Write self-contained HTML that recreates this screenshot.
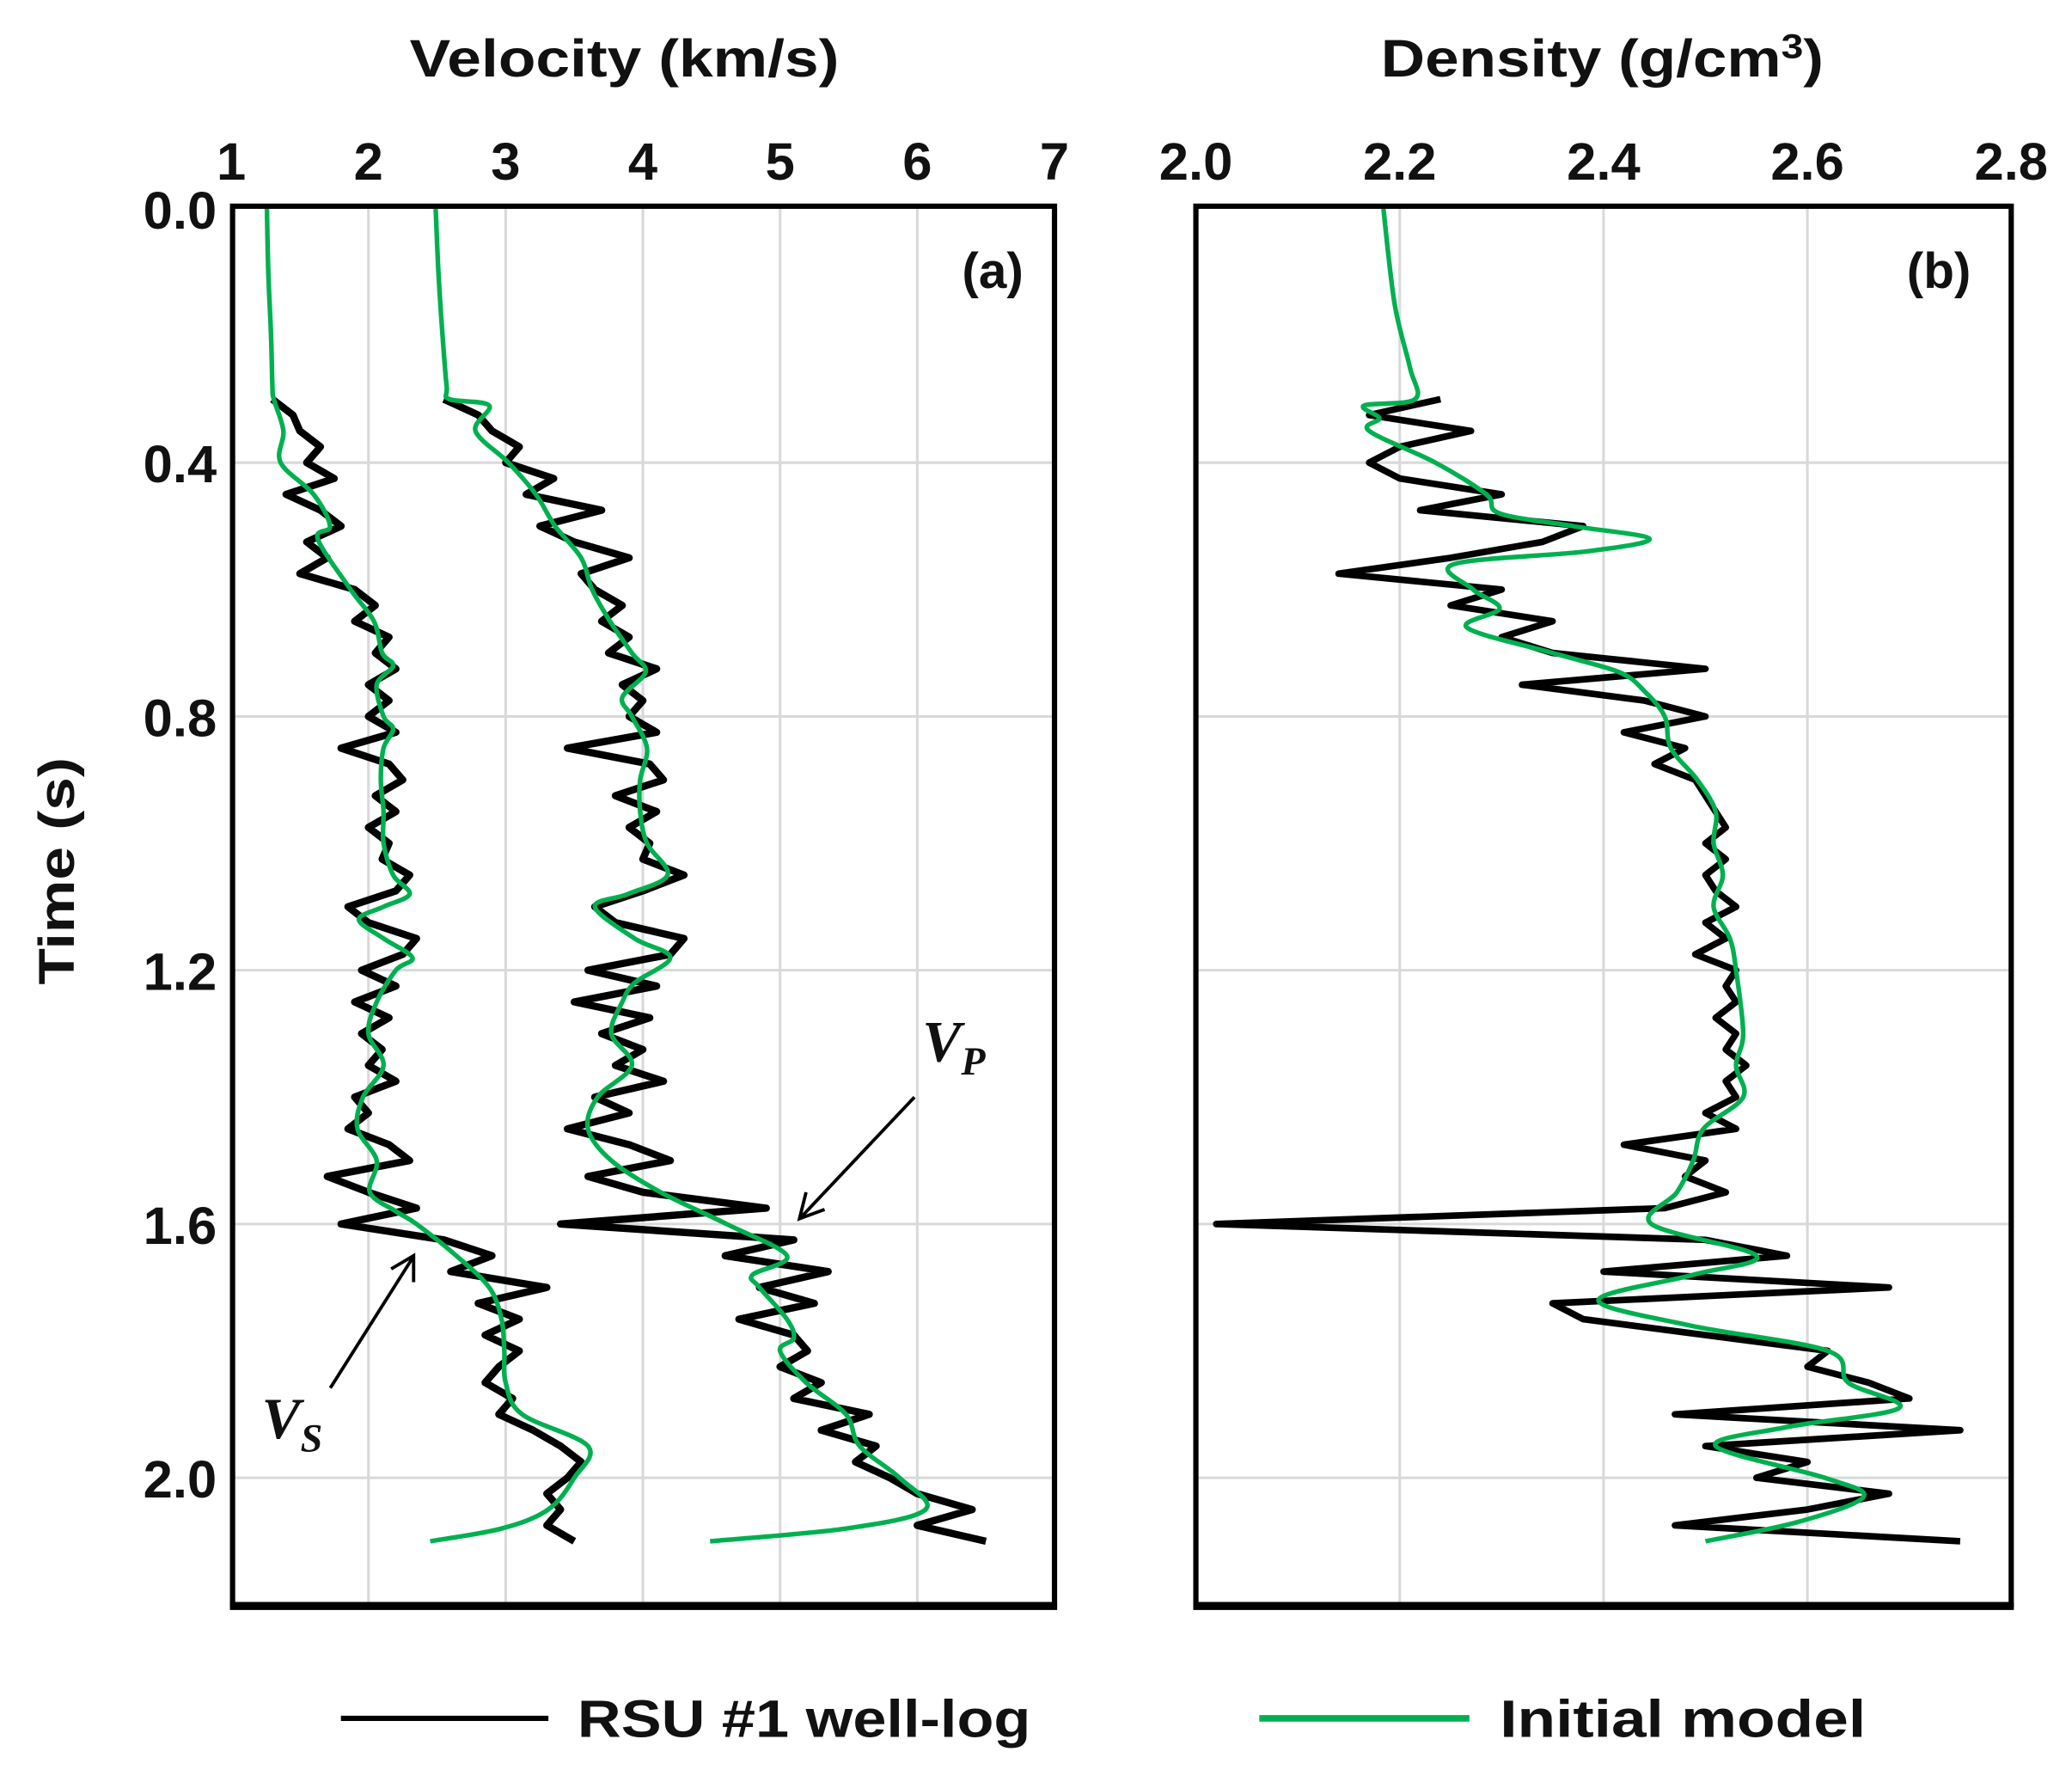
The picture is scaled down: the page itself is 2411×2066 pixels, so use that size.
<!DOCTYPE html>
<html><head><meta charset="utf-8"><style>
html,body{margin:0;padding:0;background:#fff;}
svg{display:block;}
text{font-family:"Liberation Sans",sans-serif;font-weight:bold;fill:#111;}
</style></head><body>
<svg id="chart" width="2411" height="2066" viewBox="0 0 1568 1343.6" preserveAspectRatio="none" xmlns="http://www.w3.org/2000/svg">
<g id="grid"></g>
<g id="series"></g>
<rect x="176" y="156" width="622" height="1058" fill="none" stroke="#000" stroke-width="4"/>
<line x1="174" y1="1215" x2="800" y2="1215" stroke="#000" stroke-width="6"/>
<rect x="905" y="156" width="617" height="1058" fill="none" stroke="#000" stroke-width="4"/>
<line x1="903" y1="1215" x2="1524" y2="1215" stroke="#000" stroke-width="6"/>
<g id="ticks"></g>
<text x="310" y="58" font-size="40" textLength="325" lengthAdjust="spacingAndGlyphs">Velocity (km/s)</text>
<text x="1045" y="58" font-size="40" textLength="335" lengthAdjust="spacingAndGlyphs">Density (g/cm<tspan font-size="26" dy="-14">3</tspan><tspan dy="14">)</tspan></text>
<text transform="translate(56,745) rotate(-90)" font-size="38" textLength="172" lengthAdjust="spacingAndGlyphs">Time (s)</text>
<text x="728" y="218" font-size="38">(a)</text>
<text x="1443" y="218" font-size="38">(b)</text>
<text x="698" y="803" font-size="44" font-style="italic" style="font-family:'Liberation Serif',serif">V<tspan font-size="30" dy="10">P</tspan></text>
<line x1="692" y1="830" x2="607" y2="920" stroke="#000" stroke-width="2.5"/>
<polyline points="610,902 605,922 624,915" fill="none" stroke="#000" stroke-width="2.5"/>
<text x="198" y="1088" font-size="44" font-style="italic" style="font-family:'Liberation Serif',serif">V<tspan font-size="30" dy="10">S</tspan></text>
<line x1="250" y1="1050" x2="312" y2="952" stroke="#000" stroke-width="2.5"/>
<polyline points="296,960 313,950 313,970" fill="none" stroke="#000" stroke-width="2.5"/>
<line x1="258" y1="1300" x2="415" y2="1300" stroke="#000" stroke-width="4"/>
<text x="437" y="1314" font-size="40" textLength="343" lengthAdjust="spacingAndGlyphs">RSU #1 well-log</text>
<line x1="953" y1="1300" x2="1112" y2="1300" stroke="#00b050" stroke-width="5"/>
<text x="1135" y="1314" font-size="40" textLength="277" lengthAdjust="spacingAndGlyphs">Initial model</text>
</svg>
<script>
// ---- data ----
const velTicks = [1,2,3,4,5,6,7];
const denTicks = ["2.0","2.2","2.4","2.6","2.8"];
const timeTicks = ["0.0","0.4","0.8","1.2","1.6","2.0"];
const logT0 = 0.3, logDt = 0.025;
const vsLog = [1.3,1.45,1.5,1.65,1.55,1.75,1.4,1.65,1.8,1.55,1.7,1.5,1.9,2.05,1.9,2.15,2.05,2.2,2.0,2.15,2.0,2.2,1.8,2.15,2.25,2.05,2.2,2.0,2.15,2.1,2.3,2.2,1.85,2.0,2.35,2.25,1.95,2.2,1.9,2.15,1.95,2.1,2.0,2.2,1.9,2.0,1.85,2.15,2.3,1.7,2.0,2.35,1.8,2.55,2.9,2.6,3.3,2.8,3.1,2.85,3.1,2.95,2.85,3.05,2.95,3.2,3.4,3.55,3.45,3.3,3.4,3.3,3.5];
const vpLog = [2.55,2.8,2.9,3.1,3.0,3.35,3.15,3.7,3.25,3.5,3.9,3.55,3.65,3.85,3.7,3.9,3.75,4.1,3.85,4.0,3.9,4.1,3.45,4.05,4.15,3.8,4.1,3.9,4.05,4.0,4.3,4.0,3.65,3.8,4.3,4.2,3.6,4.1,3.5,4.05,3.7,4.0,3.8,4.15,3.65,3.9,3.45,3.9,4.2,3.6,4.0,4.9,3.4,5.1,4.6,5.35,4.85,5.25,4.7,5.1,5.2,5.0,5.3,5.1,5.65,5.3,5.7,5.55,5.8,6.0,6.4,6.0,6.5];
const rhoLog = [2.24,2.17,2.27,2.2,2.17,2.2,2.3,2.22,2.38,2.34,2.25,2.14,2.3,2.25,2.35,2.3,2.35,2.5,2.32,2.44,2.5,2.42,2.48,2.45,2.49,2.5,2.51,2.52,2.5,2.52,2.5,2.51,2.53,2.5,2.52,2.49,2.53,2.52,2.53,2.51,2.53,2.52,2.54,2.52,2.53,2.5,2.53,2.42,2.5,2.48,2.52,2.46,2.02,2.5,2.58,2.4,2.68,2.35,2.38,2.5,2.62,2.6,2.66,2.7,2.47,2.75,2.5,2.6,2.55,2.68,2.6,2.47,2.75];
const vsModelT = [0,0.1,0.2,0.28,0.3,0.35,0.4,0.45,0.5,0.52,0.6,0.65,0.7,0.72,0.75,0.8,0.82,0.85,0.9,0.95,1.0,1.05,1.08,1.1,1.12,1.15,1.18,1.2,1.25,1.3,1.35,1.4,1.45,1.5,1.55,1.58,1.6,1.65,1.7,1.75,1.8,1.85,1.9,1.95,2.0,2.05,2.08,2.1];
const vsModel = [1.26,1.27,1.29,1.3,1.31,1.38,1.36,1.6,1.72,1.63,1.87,2.04,2.1,2.18,2.06,2.11,2.18,2.11,2.09,2.11,2.11,2.18,2.3,2.11,1.93,2.11,2.32,2.2,2.06,2.0,2.11,1.96,1.92,2.06,2.01,2.2,2.35,2.64,2.88,2.97,2.99,3.0,3.12,3.6,3.5,3.31,2.97,2.45];
const vpModelT = [0,0.1,0.2,0.28,0.3,0.31,0.35,0.4,0.45,0.5,0.55,0.6,0.65,0.7,0.73,0.77,0.8,0.85,0.9,0.95,1.0,1.05,1.08,1.1,1.15,1.18,1.22,1.25,1.3,1.35,1.4,1.45,1.5,1.55,1.6,1.65,1.68,1.7,1.75,1.78,1.8,1.85,1.9,1.95,2.0,2.05,2.08,2.1];
const vpModel = [2.49,2.51,2.54,2.57,2.59,2.88,2.78,3.02,3.22,3.36,3.55,3.63,3.76,3.92,4.02,3.85,3.92,4.03,3.98,3.98,4.03,4.18,3.89,3.65,3.94,4.2,3.94,3.85,3.77,3.92,3.67,3.6,3.77,4.13,4.61,5.05,4.8,4.85,5.05,5.1,5.0,5.19,5.48,5.58,5.87,6.06,5.48,4.49];
const rhoModelT = [0,0.15,0.25,0.3,0.31,0.33,0.35,0.4,0.45,0.48,0.5,0.52,0.54,0.56,0.6,0.63,0.66,0.7,0.73,0.76,0.8,0.85,0.9,0.95,1.0,1.05,1.1,1.15,1.2,1.3,1.35,1.4,1.45,1.5,1.55,1.6,1.65,1.68,1.72,1.76,1.8,1.85,1.89,1.92,1.95,2.0,2.03,2.07,2.1];
const rhoModel = [2.184,2.195,2.21,2.215,2.165,2.18,2.17,2.235,2.285,2.298,2.37,2.445,2.383,2.253,2.272,2.298,2.266,2.35,2.415,2.44,2.46,2.466,2.492,2.51,2.508,2.517,2.508,2.524,2.53,2.537,2.53,2.537,2.498,2.488,2.472,2.447,2.55,2.488,2.395,2.485,2.62,2.64,2.69,2.58,2.51,2.617,2.655,2.59,2.5];
// ---- scales ----
const NS='http://www.w3.org/2000/svg';
const yT = t => 158 + t*480;
const xV = v => 175 + (v-1)*103.83;
const xD = d => 905 + (d-2)*771.25;
const grid=document.getElementById('grid'), series=document.getElementById('series'), ticks=document.getElementById('ticks');
function mk(tag, attrs, parent){const e=document.createElementNS(NS,tag);for(const k in attrs)e.setAttribute(k,attrs[k]);parent.appendChild(e);return e;}
velTicks.slice(1,-1).forEach(v=>{const l=mk('line',{x1:xV(v),x2:xV(v),y1:156,y2:1214,stroke:'#d9d9d9','stroke-width':2},grid);

});
denTicks.slice(1,-1).forEach(d=>{const l=mk('line',{x1:xD(+d),x2:xD(+d),y1:156,y2:1214,stroke:'#d9d9d9','stroke-width':2},grid);

});
timeTicks.slice(1).forEach(t=>{[[176,798],[905,1522]].forEach(r=>{const l=mk('line',{x1:r[0],x2:r[1],y1:yT(+t),y2:yT(+t),stroke:'#d9d9d9','stroke-width':2},grid);

});});
velTicks.forEach(v=>{const e=mk('text',{x:xV(v),y:136,'font-size':40,'text-anchor':'middle'},ticks);e.textContent=v;

});
denTicks.forEach(d=>{const e=mk('text',{x:xD(+d),y:136,'font-size':40,'text-anchor':'middle'},ticks);e.textContent=d;

});
timeTicks.forEach(t=>{const e=mk('text',{x:164,y:yT(+t)+15,'font-size':40,'text-anchor':'end'},ticks);e.textContent=t;

});
function logPath(vals, xf){return vals.map((v,i)=>(i?'L':'M')+xf(v).toFixed(1)+','+yT(logT0+i*logDt).toFixed(1)).join('');}
function smoothPath(ts, vals, xf){const p=ts.map((t,i)=>[xf(vals[i]),yT(t)]);let d='M'+p[0][0]+','+p[0][1];
 for(let i=0;i<p.length-1;i++){const p0=p[Math.max(0,i-1)],p1=p[i],p2=p[i+1],p3=p[Math.min(p.length-1,i+2)];
 const c1=[p1[0]+(p2[0]-p0[0])/6,p1[1]+(p2[1]-p0[1])/6],c2=[p2[0]-(p3[0]-p1[0])/6,p2[1]-(p3[1]-p1[1])/6];
 d+='C'+c1[0]+','+c1[1]+' '+c2[0]+','+c2[1]+' '+p2[0]+','+p2[1];}return d;}
let e;
e=mk('path',{d:logPath(vsLog,xV),fill:'none',stroke:'#000','stroke-width':5.5,'stroke-linejoin':'round'},series);


e=mk('path',{d:logPath(vpLog,xV),fill:'none',stroke:'#000','stroke-width':5.5,'stroke-linejoin':'round'},series);


e=mk('path',{d:logPath(rhoLog,xD),fill:'none',stroke:'#000','stroke-width':5,'stroke-linejoin':'round'},series);


e=mk('path',{d:smoothPath(vsModelT,vsModel,xV),fill:'none',stroke:'#00b050','stroke-width':3.5},series);


e=mk('path',{d:smoothPath(vpModelT,vpModel,xV),fill:'none',stroke:'#00b050','stroke-width':3.5},series);


e=mk('path',{d:smoothPath(rhoModelT,rhoModel,xD),fill:'none',stroke:'#00b050','stroke-width':3.5},series);


</script>
</body></html>
